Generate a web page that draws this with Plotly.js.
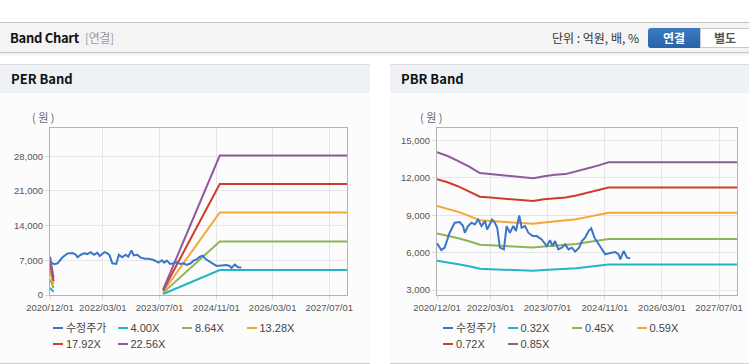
<!DOCTYPE html>
<html><head><meta charset="utf-8">
<script src="https://cdn.plot.ly/plotly-3.0.1.min.js"></script>
<style>
body{margin:0;width:749px;height:364px;overflow:hidden;background:#fff;position:relative;font-family:"Liberation Sans","Noto Sans CJK KR",sans-serif}
#topbar{position:absolute;left:0;top:22px;width:749px;height:29px;background:#f4f4f4;border-top:1px solid #c2c2c2;border-bottom:1px solid #c8c8c8;box-shadow:0 2px 2px rgba(0,0,0,0.07)}
#ttl{position:absolute;left:10px;top:6px;font-size:13px;font-weight:bold;color:#111;font-family:"Noto Sans CJK KR",sans-serif;letter-spacing:-0.3px;line-height:17px}
#ttl span{font-weight:normal;color:#999;font-size:12px;margin-left:6px}
#unit{position:absolute;left:552px;top:6px;font-size:12px;color:#333;font-family:"Noto Sans CJK KR",sans-serif;line-height:17px;white-space:pre}
#b1{position:absolute;left:648px;top:5px;width:52px;height:20px;background:linear-gradient(#3a7cc4,#2a62a8);border-radius:3px 0 0 3px;color:#fff;font-weight:bold;font-size:12px;text-align:center;line-height:20px;font-family:"Noto Sans CJK KR",sans-serif}
#b2{position:absolute;left:700px;top:5px;width:48px;height:18px;background:#fff;border:1px solid #c8c8c8;color:#555;font-weight:bold;font-size:12px;text-align:center;line-height:18px;font-family:"Noto Sans CJK KR",sans-serif}
.panel{position:absolute;top:64px;height:298px;background:#fcfcfc;border-top:1px solid #dcdcdc;border-bottom:1px solid #cfcfcf}
.hd{height:28px;background:#eef2f7;font-weight:bold;font-size:13px;line-height:28px;padding-left:11px;color:#111;font-family:"Noto Sans CJK KR",sans-serif}
.unitlbl{position:absolute;top:110px;font-size:11px;color:#666;font-family:"Noto Sans CJK KR",sans-serif;line-height:14px;white-space:pre}
.chart{position:absolute;top:95px;height:268px}
.lg{position:absolute;font-size:11px;color:#444;line-height:14px;white-space:nowrap}
.lg i{position:absolute;left:0;top:6px;width:10px;height:2px}
.lg b{font-weight:normal;position:absolute;left:13px;top:0}
</style></head>
<body>
<div id="topbar"><div id="ttl">Band Chart<span>[연결]</span></div><div id="unit">단위 : 억원, 배, %</div><div id="b1">연결</div><div id="b2">별도</div></div>
<div class="panel" style="left:0;width:370px"><div class="hd">PER Band</div></div>
<div class="panel" style="left:390px;width:359px"><div class="hd">PBR Band</div></div>
<div class="unitlbl" style="left:32px">( 원 )</div>
<div class="unitlbl" style="left:420px">( 원 )</div>
<div id="per" class="chart" style="left:0;width:370px"></div>
<div id="pbr" class="chart" style="left:390px;width:359px"></div>
<div id="legs"></div>
<script>
// ---- data ----
const tickDates = ['2020-12-01','2022-03-01','2023-07-01','2024-11-01','2026-03-01','2027-07-01'];
const tickLabels = ['2020/12/01','2022/03/01','2023/07/01','2024/11/01','2026/03/01','2027/07/01'];
const xRange = ['2020-12-01','2027-12-01'];

const priceName = '수정주가';
const priceDates = ['2020-12-01','2021-01-07','2021-02-04','2021-03-19','2021-05-01','2021-06-13','2021-07-11','2021-07-26','2021-08-23','2021-09-21','2021-10-19','2021-11-16','2021-12-15','2022-01-13','2022-02-01','2022-02-18','2022-03-16','2022-04-08','2022-04-28','2022-05-21','2022-06-24','2022-07-17','2022-08-14','2022-09-12','2022-10-05','2022-11-02','2022-11-22','2022-12-21','2023-01-18','2023-02-24','2023-03-31','2023-05-12','2023-06-24','2023-07-22','2023-08-11','2023-09-03','2023-10-01','2023-10-30','2023-11-28','2023-12-26','2024-01-24','2024-02-21','2024-03-26','2024-04-18','2024-05-16','2024-06-14','2024-07-07','2024-08-04','2024-09-07','2024-10-06','2024-11-03','2024-12-16','2025-01-28','2025-02-25','2025-03-12','2025-04-09','2025-05-08','2025-06-05'];
const priceValues = [6750,6200,6400,7600,8400,8450,8130,7600,8130,8400,8260,8660,8130,8530,7860,8180,8660,8400,8000,6400,6260,8130,7600,8130,7730,8980,8000,8130,7600,7330,7330,7060,6530,7000,6530,6930,6260,6400,6660,6260,6400,6080,6400,6930,7200,7730,7950,7200,6660,6260,5860,5970,6050,5860,5460,6130,5600,5540];

const perNames = ['4.00X','8.64X','13.28X','17.92X','22.56X'];
const perDates = ['2020-12-01','2021-01-01','2022-06-01','2023-08-01','2024-12-01','2027-12-01'];
const per400 = [1450, 650, null, 200, 5050, 5050];
const per864 = [3150, 1400, null, 430, 10800, 10800];
const per1328 = [4800, 2150, null, 660, 16650, 16650];
const per1792 = [6200, 2800, null, 890, 22400, 22400];
const per2256 = [7750, 3450, null, 1070, 28150, 28150];
const perTicks = [0, 7000, 14000, 21000, 28000];

const pbrNames = ['0.32X','0.45X','0.59X','0.72X','0.85X'];
const pbrDates = ['2020-12-01','2021-03-01','2021-06-01','2021-09-01','2021-12-01','2022-03-01','2022-06-01','2022-09-01','2022-12-01','2023-03-01','2023-06-01','2023-09-01','2023-12-01','2024-03-01','2024-06-01','2024-09-01','2024-12-01','2027-12-01'];
const pbr032 = [5340,5230,5070,4900,4700,4670,4650,4610,4570,4550,4610,4660,4670,4750,4850,4930,5040,5040];
const pbr045 = [7530,7370,7160,6910,6640,6590,6560,6500,6440,6420,6500,6570,6590,6700,6830,6960,7100,7100];
const pbr059 = [9750,9540,9270,8950,8590,8540,8490,8410,8340,8310,8420,8500,8540,8680,8850,9010,9200,9200];
const pbr072 = [11900,11650,11310,10930,10490,10420,10360,10270,10180,10140,10280,10380,10420,10590,10800,11000,11220,11220];
const pbr085 = [14050,13750,13350,12900,12380,12300,12230,12120,12020,11970,12130,12250,12300,12500,12750,12980,13250,13250];
const pbrTicks = [3000, 6000, 9000, 12000, 15000];

// ---- style ----
const colors = ['#3b76c6','#22b4c7','#8fb358','#f4a733','#cf3b2f','#8e5a9c'];
const tf = {family:'Liberation Sans, Arial, sans-serif', size:9.5, color:'#555'};

function axisX(){return {type:'date',range:xRange,tickmode:'array',tickvals:tickDates,ticktext:tickLabels,
  showgrid:true,gridcolor:'#e6e6e6',gridwidth:1,showline:true,linecolor:'#b3b3b3',linewidth:1,mirror:true,
  ticks:'outside',ticklen:4,tickcolor:'#dcdcdc',tickfont:tf,zeroline:false,fixedrange:true};}
function axisY(range,ticks){return {range:range,tickmode:'array',tickvals:ticks,tickformat:',d',
  showgrid:true,gridcolor:'#e6e6e6',gridwidth:1,showline:true,linecolor:'#b3b3b3',linewidth:1,mirror:true,
  ticks:'outside',ticklen:4,tickcolor:'#dcdcdc',tickfont:tf,zeroline:false,fixedrange:true};}

function line(x,y,name,color){return {type:'scatter',mode:'lines',x:x,y:y,name:name,line:{color:color,width:2},connectgaps:false,hoverinfo:'skip'};}

const perSeries = [per400,per864,per1328,per1792,per2256];
const pbrSeries = [pbr032,pbr045,pbr059,pbr072,pbr085];

const perTraces = perSeries.map((s,i)=>line(perDates,s,perNames[i],colors[i+1])).concat([line(priceDates,priceValues,priceName,colors[0])]);
const pbrTraces = pbrSeries.map((s,i)=>line(pbrDates,s,pbrNames[i],colors[i+1])).concat([line(priceDates,priceValues,priceName,colors[0])]);

const baseLayout = {paper_bgcolor:'rgba(0,0,0,0)',plot_bgcolor:'rgba(0,0,0,0)',showlegend:false};
Plotly.newPlot('per', perTraces, Object.assign({}, baseLayout, {width:370,height:268,
  margin:{l:50,r:23,t:33,b:68}, xaxis:axisX(), yaxis:axisY([0,33700],perTicks)}), {staticPlot:true,displayModeBar:false});
Plotly.newPlot('pbr', pbrTraces, Object.assign({}, baseLayout, {width:359,height:268,
  margin:{l:47,r:12,t:33,b:68}, xaxis:axisX(), yaxis:axisY([2600,16000],pbrTicks)}), {staticPlot:true,displayModeBar:false});

// ---- legends (HTML) ----
function legend(x0, names){
  const all = [priceName].concat(names);
  const box = document.getElementById('legs');
  all.forEach((n,i)=>{
    const d = document.createElement('div');
    d.className='lg';
    d.style.left = (x0 + (i%4)*64.5) + 'px';
    d.style.top = (321 + Math.floor(i/4)*16) + 'px';
    d.innerHTML = '<i style="background:'+colors[i]+'"></i><b>'+n+'</b>';
    box.appendChild(d);
  });
}
legend(53, perNames);
legend(443, pbrNames);
</script>
</body></html>
